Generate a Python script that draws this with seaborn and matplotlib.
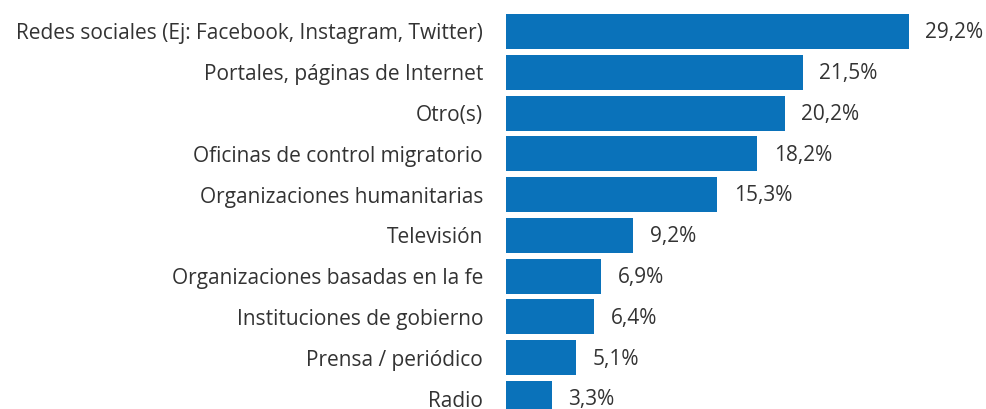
import matplotlib
matplotlib.use("Agg")
import matplotlib.pyplot as plt
import seaborn as sns
import pandas as pd

categories = [
    "Redes sociales (Ej: Facebook, Instagram, Twitter)",
    "Portales, páginas de Internet",
    "Otro(s)",
    "Oficinas de control migratorio",
    "Organizaciones humanitarias",
    "Televisión",
    "Organizaciones basadas en la fe",
    "Instituciones de gobierno",
    "Prensa / periódico",
    "Radio",
]
values = [29.2, 21.5, 20.2, 18.2, 15.3, 9.2, 6.9, 6.4, 5.1, 3.3]
value_labels = ["29,2%", "21,5%", "20,2%", "18,2%", "15,3%", "9,2%", "6,9%", "6,4%", "5,1%", "3,3%"]

df = pd.DataFrame({"fuente": categories, "pct": values})

sns.set_theme(style="white")
plt.rcParams["font.family"] = ["Open Sans", "DejaVu Sans"]

W, H = 987, 409
fig = plt.figure(figsize=(W / 100, H / 100), dpi=100)
left_px, right_px = 506, 975
top_px, bottom_px = 11.1, 418.9
ax = fig.add_axes([left_px / W, 1 - bottom_px / H,
                   (right_px - left_px) / W, (bottom_px - top_px) / H])

sns.barplot(data=df, x="pct", y="fuente", color="#0A72BA", saturation=1,
            width=0.86, orient="h", ax=ax, edgecolor="none")

ax.set_xlim(0, 34)
ax.set_ylim(9.5, -0.5)
ax.set_xlabel("")
ax.set_ylabel("")
ax.set_xticks([])
ax.tick_params(axis="y", length=0, pad=16.5, labelsize=15, labelcolor="#333333")
for s in ax.spines.values():
    s.set_visible(False)

for i, (v, lab) in enumerate(zip(values, value_labels)):
    ax.annotate(lab, xy=(v, i), xytext=(12, -1), textcoords="offset points",
                ha="left", va="center", fontsize=15, color="#333333")

fig.savefig("out.png", dpi=100)
